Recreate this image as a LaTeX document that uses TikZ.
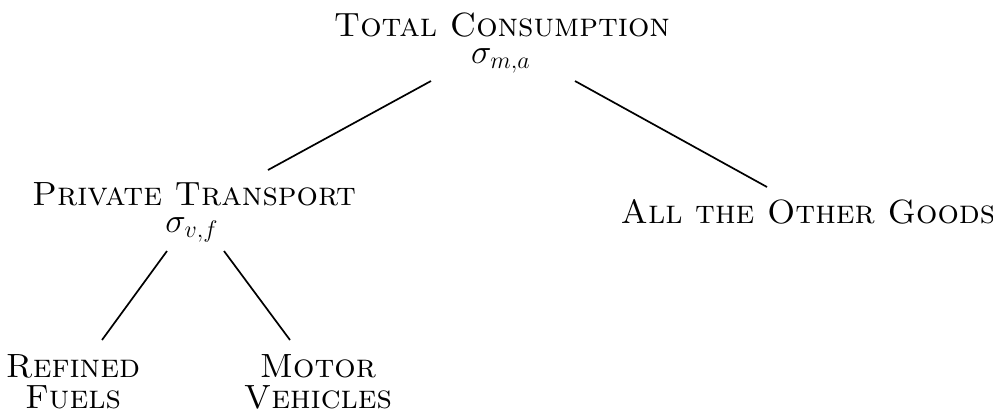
\documentclass[tikz,border=0pt]{standalone}
\begin{document}
\begin{tikzpicture}[x=0.5pt,y=-0.5pt,
  lbl/.style={font=\fontsize{16.8}{20}\selectfont\scshape, inner sep=0pt, anchor=base},
  sig/.style={font=\fontsize{18}{20}\selectfont, inner sep=0pt, anchor=base},
  edge/.style={draw=black, line width=0.85pt}]
\useasboundingbox (0,0) rectangle (993,414);
% nodes
\node[lbl] (tc) at (502,36) {Total Consumption};
\node[sig] (tcs) at (501,63) {$\sigma_{m,a}$};
\node[lbl] (pt) at (194,205) {Private Transport};
\node[sig] (pts) at (192,232) {$\sigma_{v,f}$};
\node[lbl] (og) at (808,223) {All the Other Goods};
\node[lbl] (rf1) at (73,377) {Refined};
\node[lbl] (rf2) at (73,408) {Fuels};
\node[lbl] (mv1) at (318,377) {Motor};
\node[lbl] (mv2) at (318,408) {Vehicles};
% connector ends
\coordinate (a1) at (431,81);
\coordinate (a2) at (268,170);
\coordinate (b1) at (575,81);
\coordinate (b2) at (767,187);
\coordinate (c1) at (167,251);
\coordinate (c2) at (102,340);
\coordinate (d1) at (224,251);
\coordinate (d2) at (290,340);
\draw[edge] (a1) -- (a2);
\draw[edge] (b1) -- (b2);
\draw[edge] (c1) -- (c2);
\draw[edge] (d1) -- (d2);
\end{tikzpicture}
\end{document}
